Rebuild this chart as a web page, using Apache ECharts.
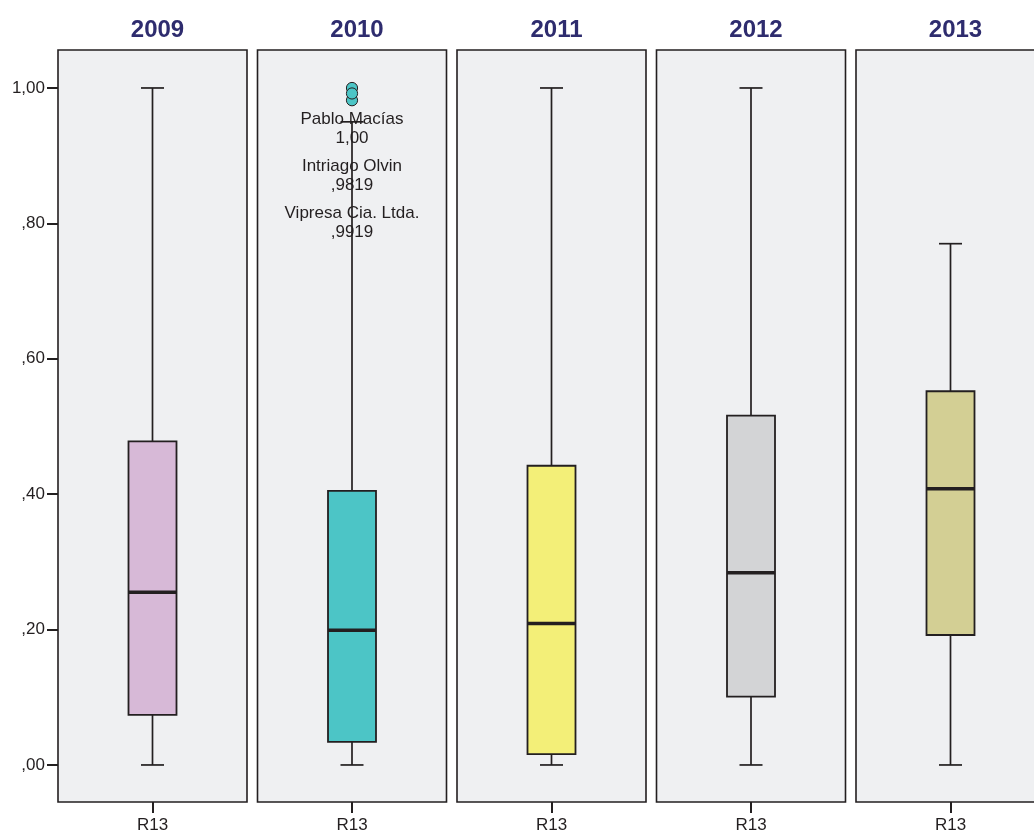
<!DOCTYPE html>
<html>
<head>
<meta charset="utf-8">
<script src="https://cdn.jsdelivr.net/npm/echarts@6/dist/echarts.min.js"></script>
<style>
  html, body { margin: 0; padding: 0; background: #ffffff; }
  #chart { width: 1034px; height: 837px; }
</style>
</head>
<body>
<div id="chart"></div>
<script>
// R13 distribution per year: five-number summaries
const years = ['2009', '2010', '2011', '2012', '2013'];
const variableName = 'R13';
const whiskerLow = [0, 0, 0, 0, 0];
const quartile1 = [0.074, 0.034, 0.016, 0.101, 0.192];
const medians = [0.255, 0.199, 0.209, 0.284, 0.408];
const quartile3 = [0.478, 0.405, 0.442, 0.516, 0.552];
const whiskerHigh = [1.00, 0.950, 1.00, 1.00, 0.770];
const boxColors = ['#d7b9d7', '#4cc5c6', '#f3ef78', '#d3d4d6', '#d3cf94'];

// labelled outliers (2010 only)
const outlierYear = '2010';
const outlierNames = ['Pablo Macías', 'Intriago Olvin', 'Vipresa Cia. Ltda.'];
const outlierValues = [1.00, 0.9819, 0.9919];

const yTicks = [0, 0.2, 0.4, 0.6, 0.8, 1.0];

const INK = '#231f20';
const FONT = '"Liberation Sans", Arial, sans-serif';

// SPSS-style number: comma decimal, no leading zero
function spssNumber(v) {
  let s = v.toFixed(4);
  while (s.endsWith('0') && s.split('.')[1].length > 2) s = s.slice(0, -1);
  s = s.replace('.', ',');
  if (s.startsWith('0,')) s = s.slice(1);
  return s;
}

const chartWidth = 1034;
const panelLeft = 58, panelStep = 199.5, panelWidth = 189;
const panelTop = 50, panelHeight = 752;

const grids = [], xAxes = [], yAxes = [], series = [], titles = [];

years.forEach((year, i) => {
  const left = panelLeft + i * panelStep;
  // the last panel runs past the right edge of the canvas
  grids.push({
    left: left, width: panelWidth, top: panelTop, height: panelHeight,
    outerBoundsMode: 'none', containLabel: false,
    show: true, backgroundColor: '#eff0f2', borderColor: INK, borderWidth: 1.6
  });
  titles.push({
    text: year,
    left: left + panelWidth / 2, top: 13, textAlign: 'center',
    textStyle: { fontFamily: FONT, fontSize: 24, fontWeight: 'bold', color: '#2e2c6e' }
  });
  xAxes.push({
    type: 'category', gridIndex: i, data: [variableName],
    axisLine: { show: false, onZero: false },
    axisTick: { show: true, alignWithLabel: true, length: 11, lineStyle: { color: INK, width: 2 } },
    axisLabel: { margin: 15, fontFamily: FONT, fontSize: 17, color: INK },
    splitLine: { show: false }
  });
  const first = i === 0;
  yAxes.push({
    type: 'value', gridIndex: i, min: -0.0547, max: 1.0561,
    axisLine: { show: false, onZero: false },
    axisTick: { show: first, customValues: yTicks, length: 11, lineStyle: { color: INK, width: 2 } },
    axisLabel: {
      show: first, customValues: yTicks, margin: 13,
      fontFamily: FONT, fontSize: 17, color: INK,
      formatter: v => spssNumber(v)
    },
    splitLine: { show: false }
  });

  series.push({
    type: 'custom', xAxisIndex: i, yAxisIndex: i, z: 2,
    encode: { x: 0, y: [1, 2, 3, 4, 5] },
    data: [[0, whiskerLow[i], quartile1[i], medians[i], quartile3[i], whiskerHigh[i]]],
    renderItem: function (params, api) {
      const cat = api.value(0);
      const xc = api.coord([cat, 0])[0];
      const band = api.size([1, 0])[0];
      const hw = 24;
      const capHw = 11.5;
      const y = v => api.coord([cat, v])[1];
      const yLow = y(api.value(1)), yQ1 = y(api.value(2)), yMed = y(api.value(3));
      const yQ3 = y(api.value(4)), yHigh = y(api.value(5));
      const line = { stroke: INK, lineWidth: 1.7 };
      return {
        type: 'group',
        children: [
          { type: 'line', shape: { x1: xc, y1: yQ3, x2: xc, y2: yHigh }, style: line },
          { type: 'line', shape: { x1: xc, y1: yQ1, x2: xc, y2: yLow }, style: line },
          { type: 'line', shape: { x1: xc - capHw, y1: yHigh, x2: xc + capHw, y2: yHigh }, style: line },
          { type: 'line', shape: { x1: xc - capHw, y1: yLow, x2: xc + capHw, y2: yLow }, style: line },
          { type: 'rect', shape: { x: xc - hw, y: yQ3, width: 2 * hw, height: yQ1 - yQ3 },
            style: { fill: boxColors[i], stroke: INK, lineWidth: 1.8 } },
          { type: 'line', shape: { x1: xc - hw, y1: yMed, x2: xc + hw, y2: yMed },
            style: { stroke: INK, lineWidth: 3.5 } }
        ]
      };
    }
  });

  if (year === outlierYear) {
    const topValue = Math.max.apply(null, outlierValues);
    series.push({
      type: 'custom', xAxisIndex: i, yAxisIndex: i, z: 3,
      encode: { x: 0, y: 1 },
      data: outlierValues.map((v, k) => [0, v, outlierNames[k]]),
      renderItem: function (params, api) {
        const cat = api.value(0);
        const p = api.coord([cat, api.value(1)]);
        const yTop = api.coord([cat, topValue])[1];
        const k = params.dataIndex;
        return {
          type: 'group',
          children: [
            { type: 'circle', shape: { cx: p[0], cy: p[1], r: 5.6 },
              style: { fill: boxColors[i], stroke: INK, lineWidth: 1 } },
            { type: 'text', x: p[0], y: yTop + 22 + k * 47,
              style: {
                text: outlierNames[k] + '\n' + spssNumber(outlierValues[k]),
                fontFamily: FONT, fontSize: 17, lineHeight: 19,
                fill: INK, align: 'center', verticalAlign: 'top'
              } }
          ]
        };
      }
    });
  }
});

const chart = echarts.init(document.getElementById('chart'), null, { renderer: 'canvas' });
chart.setOption({
  animation: false,
  backgroundColor: '#ffffff',
  title: titles,
  grid: grids,
  xAxis: xAxes,
  yAxis: yAxes,
  series: series
});
</script>
</body>
</html>
